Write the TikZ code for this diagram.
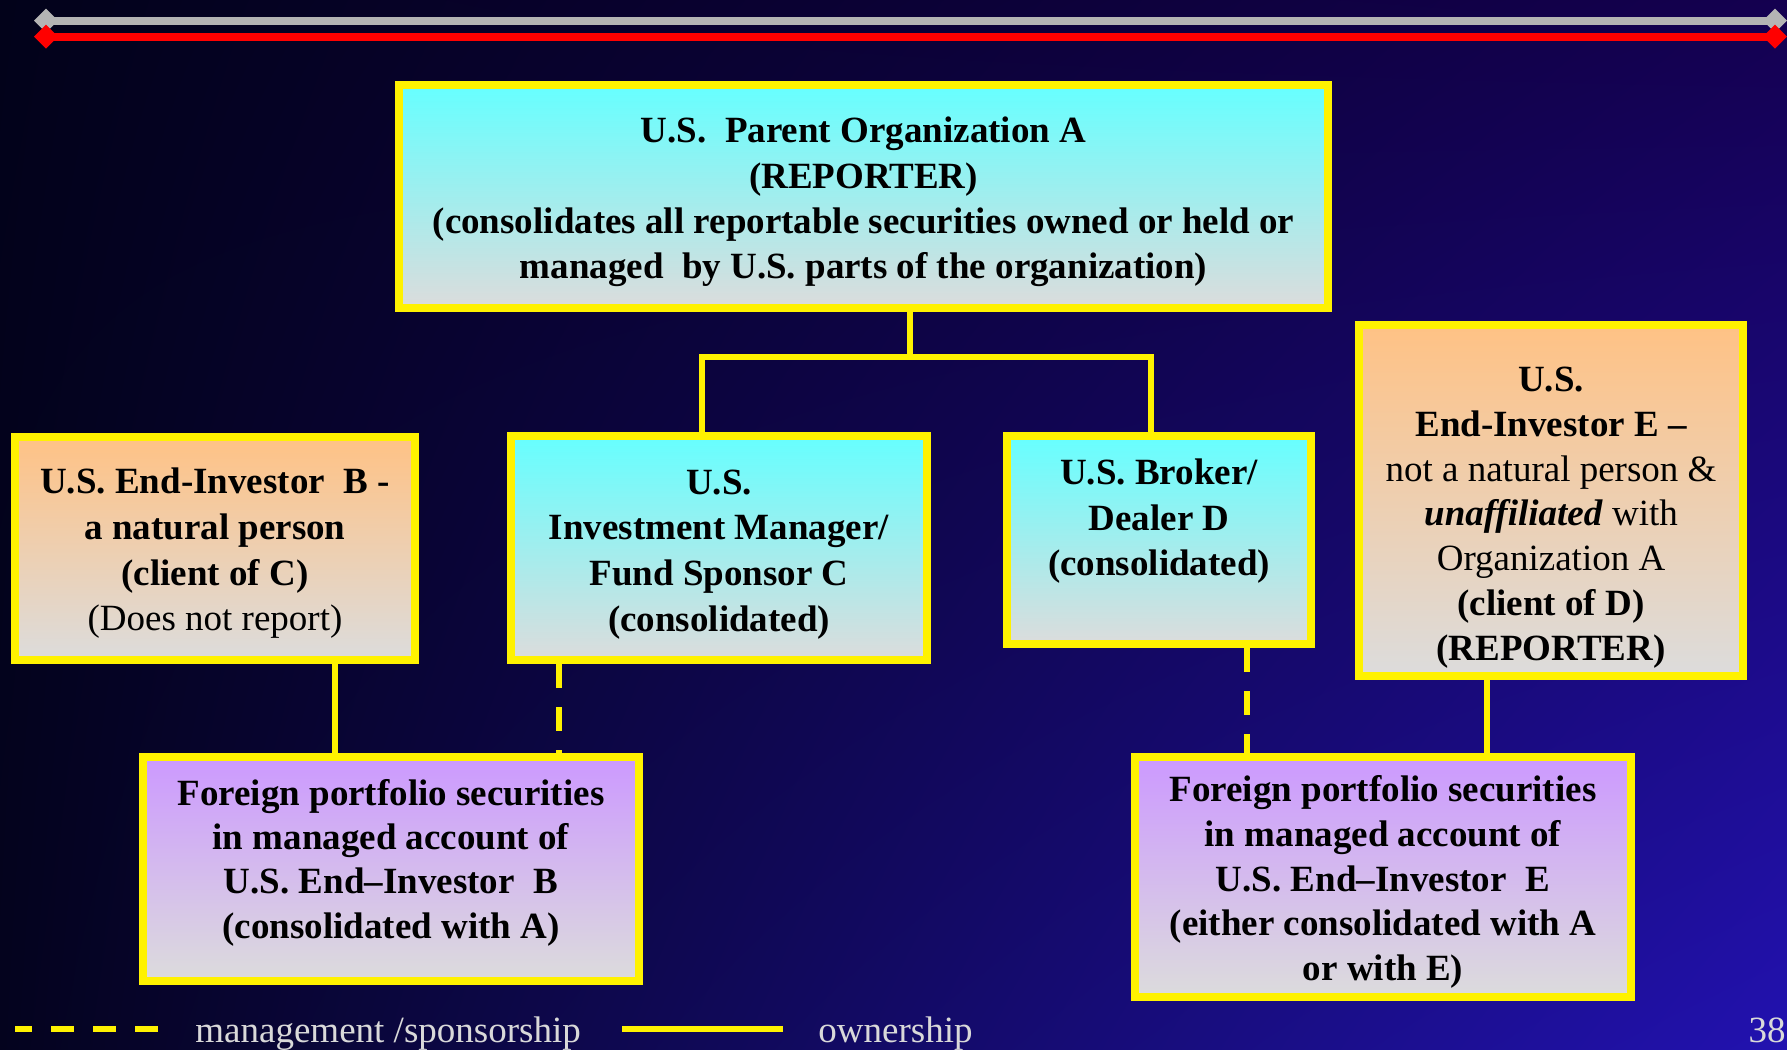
\documentclass[tikz,border=0pt]{standalone}
\usepackage{fontspec}
\setmainfont{Liberation Serif}
\usetikzlibrary{arrows.meta, shadings}

\definecolor{bgUL}{HTML}{02021A}
\definecolor{bgUR}{HTML}{140050}
\definecolor{bgLL}{HTML}{04031E}
\definecolor{bgLR}{HTML}{2212B0}
\definecolor{boxgray}{HTML}{DCDCDC}
\definecolor{topcyan}{HTML}{66FFFF}
\definecolor{toppeach}{HTML}{FFC285}
\definecolor{toplilac}{HTML}{CC99FF}
\definecolor{rulegray}{HTML}{B4B4B4}
\definecolor{legendgray}{HTML}{D9D9D9}

\tikzset{
  box/.style={draw=yellow, line width=4pt, inner sep=0pt, align=center,
    font=\fontsize{18.5}{22.8}\selectfont\bfseries, text=black, bottom color=boxgray},
  cyanbox/.style={box, top color=topcyan},
  peachbox/.style={box, top color=toppeach},
  lilacbox/.style={box, top color=toplilac},
  own/.style={yellow, line width=2.6pt},
  mgmt/.style={own, dash pattern=on 12pt off 9.5pt},
  legendtext/.style={text=legendgray, inner sep=0pt, font=\fontsize{18.5}{22}\selectfont},
  bar/.style={line width=4pt, {Diamond[length=12pt,width=12pt]}-{Diamond[length=12pt,width=12pt]}}
}

\begin{document}
\begin{tikzpicture}[x=0.5pt, y=-0.5pt]
\useasboundingbox (0,0) rectangle (1787,1049);
\shade[upper left=bgUL, upper right=bgUR, lower left=bgLL, lower right=bgLR] (0,0) rectangle (1787,1049);

% title bars
\draw[bar, rulegray] (34,20.7) -- (1787,20.7);
\draw[bar, red] (34,36.7) -- (1787,36.7);

% boxes
\node[cyanbox, minimum width=464.5pt, minimum height=111.5pt, font=\fontsize{18.5}{22.6}\selectfont\bfseries] (A) at (863.5,196.5)
  {\rule{0pt}{18.3pt}U.S.\ \ Parent Organization A\\(REPORTER)\\(consolidates all reportable securities owned or held or\\managed\ \ by U.S. parts of the organization)};
\node[peachbox, minimum width=200pt, minimum height=111.5pt] (B) at (215,548.5)
  {\rule{0pt}{17.7pt}U.S. End-Investor\ \ B -\\a natural person\\(client of C)\\{\mdseries (Does not report)}};
\node[cyanbox, minimum width=208pt, minimum height=112pt] (C) at (719,548)
  {\rule{0pt}{18.7pt}U.S.\\Investment Manager/\\Fund Sponsor C\\(consolidated)};
\node[cyanbox, minimum width=152pt, minimum height=104pt] (D) at (1159,540)
  {U.S. Broker/\\Dealer D\\(consolidated)\\\mbox{}};
\node[peachbox, minimum width=192pt, minimum height=175.5pt, font=\fontsize{18.5}{22.4}\selectfont\bfseries] (E) at (1551,500.5)
  {\rule{0pt}{29.3pt}U.S.\\End-Investor E --\\{\mdseries not a natural person \&}\\\textit{unaffiliated}{\mdseries\ with}\\{\mdseries Organization A}\\(client of D)\\(REPORTER)};
\node[lilacbox, minimum width=248pt, minimum height=112pt, font=\fontsize{18.5}{22.2}\selectfont\bfseries] (F) at (391,869)
  {Foreign portfolio securities\\in managed account of\\U.S. End--Investor\ \ B\\(consolidated with A)\rule[-10.3pt]{0pt}{10.3pt}};
\node[lilacbox, minimum width=248pt, minimum height=120pt, font=\fontsize{18.5}{22.4}\selectfont\bfseries] (G) at (1383,877)
  {\rule{0pt}{18pt}Foreign portfolio securities\\in managed account of\\U.S. End--Investor\ \ E\\(either consolidated with A\\or with E)};

% connectors
\coordinate (split) at (910,357);
\coordinate (cleft) at (702,357);
\coordinate (dright) at (1151,357);
\coordinate (bf) at (335,0);
\coordinate (cf) at (559,0);
\coordinate (dg) at (1247,0);
\coordinate (eg) at (1487,0);
\draw[own] (A.south -| split) -- (split);
\draw[own] (C.north -| cleft) -- (cleft) -- (dright) -- (D.north -| dright);
\draw[own] (B.south -| bf) -- (F.north -| bf);
\draw[mgmt] (C.south -| cf) -- (F.north -| cf);
\draw[mgmt] (D.south -| dg) -- (G.north -| dg);
\draw[own] (E.south -| eg) -- (G.north -| eg);

% legend
\draw[own, line width=3pt, dash pattern=on 11.5pt off 9.5pt, dash phase=3pt] (15,1029) -- (158,1029);
\node[legendtext, anchor=base west] (mgmtlabel) at (195,1042) {management /sponsorship};
\draw[own, line width=3pt] (622,1029) -- (783,1029);
\node[legendtext, anchor=base west] (ownlabel) at (818,1042) {ownership};
\node[legendtext, anchor=base east] (pageno) at (1786,1042) {38};
\end{tikzpicture}
\end{document}
